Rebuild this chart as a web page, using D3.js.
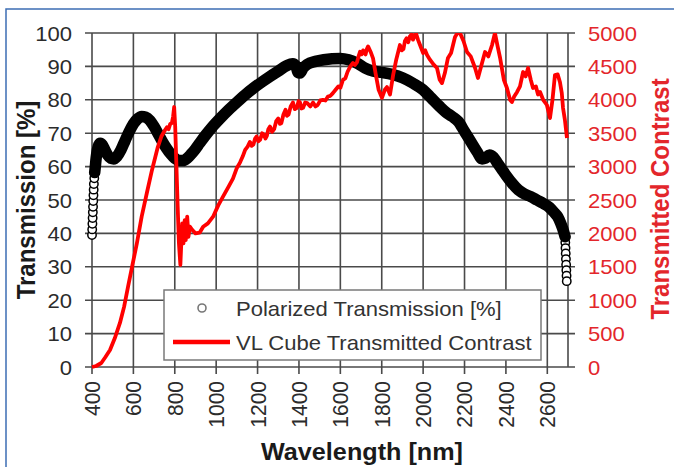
<!DOCTYPE html>
<html><head><meta charset="utf-8">
<script src="https://cdn.jsdelivr.net/npm/d3@7"></script>
<style>
html,body{margin:0;padding:0;background:#fff;}
svg{display:block;font-family:"Liberation Sans",Arial,sans-serif;}
</style>
</head><body>
<svg id="chart" width="674" height="467"></svg>
<script>
// ---------- data ----------
const wavelengthTicks = [400, 600, 800, 1000, 1200, 1400, 1600, 1800, 2000, 2200, 2400, 2600];
const transmissionTicks = [0, 10, 20, 30, 40, 50, 60, 70, 80, 90, 100];
const contrastTicks = [0, 500, 1000, 1500, 2000, 2500, 3000, 3500, 4000, 4500, 5000];

const transNm = [400, 401, 402, 403, 404, 405, 406, 407, 408, 409, 411, 413, 416,
  420, 426, 433, 440, 450, 462, 475, 490, 505, 520, 540, 560, 580, 600, 620, 640, 660, 680,
  700, 720, 740, 760, 780, 800, 820, 840, 860, 880, 900, 920, 950, 980, 1020, 1060, 1100,
  1140, 1180, 1220, 1260, 1300, 1340, 1370, 1385, 1395, 1405, 1420, 1440, 1480, 1520, 1560,
  1600, 1640, 1680, 1720, 1760, 1800, 1850, 1900, 1950, 2000, 2040, 2080, 2110, 2140, 2170,
  2200, 2230, 2260, 2285, 2300, 2320, 2340, 2360, 2380, 2405, 2430, 2460, 2490, 2520, 2550,
  2580, 2610, 2630, 2650, 2665, 2675, 2686,
  2687, 2688, 2689, 2690, 2691, 2692, 2693, 2694];
const transPct = [39.5, 41.2, 42.9, 44.6, 46.3, 48, 49.7, 51.4, 53.1, 54.8, 56.5, 58.2, 60,
  62.5, 65, 66.5, 67, 66.5, 65, 63.5, 62.5, 62.3, 63, 65, 67.8, 70.5, 72.8, 74.3, 75, 74.8, 73.8,
  72, 69.8, 67.5, 65.5, 63.8, 62.5, 61.8, 61.8, 62.5, 63.8, 65.3, 67, 69.5, 71.8, 74.5, 77, 79.3,
  81.5, 83.5, 85.3, 87, 88.6, 90.2, 90.8, 90.2, 88.2, 88, 89.5, 90.6, 91.5, 92, 92.3,
  92.4, 92, 91, 89.5, 88.6, 88.2, 87.6, 86.6, 85, 83, 80.5, 78, 76.3, 75, 73.5,
  70.5, 67.5, 64.5, 62.3, 62.5, 63.5, 62.8, 61, 59.2, 57, 55, 53, 51.8, 51, 50,
  49, 47.8, 46.5, 45, 43, 41.3, 39,
  37.3, 35.6, 34, 32.3, 30.6, 29, 27.3, 25.7];

const contrastNm = [400, 420, 445, 465, 487, 510, 535, 555, 574, 595, 617, 640, 665, 690, 718,
  735, 753, 762, 770, 778, 786, 792, 797, 802, 808, 814, 820, 827, 832, 836, 842, 848, 853, 860,
  866, 873, 885, 900, 920, 937, 960, 985, 1010, 1033, 1060, 1081, 1100, 1115, 1128, 1140, 1152, 1163, 1172, 1180,
  1188, 1195, 1204, 1212, 1222, 1230, 1238, 1245, 1252, 1260, 1270, 1280, 1290, 1300, 1308, 1315, 1325, 1335, 1342, 1350, 1360, 1371, 1380, 1390, 1398, 1405, 1412, 1420, 1430, 1440, 1455, 1468,
  1480, 1490, 1503, 1516, 1528, 1540, 1552, 1564, 1577, 1590, 1600, 1613, 1624, 1635, 1648, 1661, 1670, 1680, 1688, 1695, 1703, 1710, 1716, 1722, 1728, 1734, 1740, 1746, 1758, 1770,
  1785, 1801, 1815, 1825, 1840, 1855, 1870, 1888, 1897, 1905, 1912, 1920, 1928, 1936, 1944, 1951, 1965, 1975, 1985, 2000, 2010, 2019,
  2033, 2050, 2067, 2080, 2091, 2105, 2120, 2135, 2154, 2166, 2178, 2195, 2212, 2230, 2251, 2265,
  2280, 2299, 2315, 2333, 2347, 2360, 2372, 2390, 2405, 2420, 2429, 2440, 2454, 2468, 2483, 2495,
  2507, 2520, 2531, 2545, 2555, 2565, 2580, 2598, 2613, 2625, 2637, 2650, 2661, 2670, 2676, 2685, 2695];
const contrastVal = [0, 15, 60, 150, 254, 430, 659, 900, 1198, 1520, 1856, 2250, 2605, 2950, 3293,
  3450, 3548, 3590, 3560, 3640, 3653, 3750, 3892, 3600, 3000, 2400, 1856, 1527, 1900, 2150, 1850, 2200, 1900, 2250,
  1950, 2100, 2050, 2000, 2010, 2100, 2150, 2250, 2420, 2550, 2700, 2820, 2980, 3060, 3150, 3250, 3300, 3370, 3310, 3330,
  3420, 3450, 3380, 3400, 3500, 3480, 3420, 3460, 3560, 3600, 3520, 3560, 3680, 3720, 3640, 3650, 3780, 3850, 3760, 3780, 3900, 3960, 3860, 3880, 3980, 3960, 3870, 3880, 3960, 3950, 3900, 3960,
  3900, 3920, 3990, 4000, 3990, 4050, 4060, 4100, 4150, 4200, 4180, 4300, 4320, 4420, 4500, 4550, 4520, 4560, 4650, 4720, 4680, 4740, 4700, 4680, 4760, 4800, 4760, 4720, 4620, 4400,
  4150, 4030, 4150, 4190, 4080, 4370, 4600, 4820, 4740, 4760, 4880, 4920, 4860, 4950, 4980, 4900, 5000, 4900, 4820, 4700, 4740, 4670,
  4600, 4530, 4476, 4300, 4250, 4400, 4626, 4700, 4940, 5000, 5000, 4880, 4716, 4650, 4476, 4326,
  4500, 4716, 4650, 4820, 5000, 4800, 4626, 4300, 4177, 4000, 3967, 4050, 4117, 4200, 4416, 4350,
  4476, 4300, 4177, 4200, 4080, 4117, 4000, 3922, 3727, 4000, 4371, 4380, 4266, 4100, 3877, 3700, 3428];

const seriesNames = ["Polarized Transmission [%]", "VL Cube Transmitted Contrast"];

// ---------- chart ----------
const SX = 1.05;
const RED = "#ff0000", RED_TXT = "#e3262b", GRID = "#4a4a4a";
const svg = d3.select("#chart");
const x = d3.scaleLinear().domain([400, 2700]).range([92, 568]);
const yT = d3.scaleLinear().domain([0, 100]).range([367, 33]);
const yC = d3.scaleLinear().domain([0, 5000]).range([367, 33]);

// outer frame (top + left visible)
svg.append("path").attr("d", "M6,467V9H674").attr("fill", "none")
  .attr("stroke", "#3d6eb4").attr("stroke-width", 1.5);

// grid
const grid = svg.append("g").attr("stroke", GRID).attr("stroke-width", 1.6);
grid.selectAll("line.v").data(wavelengthTicks).join("line")
  .attr("x1", d => x(d)).attr("x2", d => x(d))
  .attr("y1", yT(100)).attr("y2", yT(0) + 7);
grid.selectAll("line.h").data(transmissionTicks).join("line")
  .attr("x1", x(400) - 7).attr("x2", x(2700) + 7)
  .attr("y1", d => yT(d)).attr("y2", d => yT(d));
grid.append("line").attr("x1", x(2700)).attr("x2", x(2700)).attr("y1", yT(100)).attr("y2", yT(0));

// tick labels
svg.append("g").selectAll("text").data(transmissionTicks).join("text")
  .attr("transform", d => `translate(72,${yT(d)}) scale(${SX},1)`)
  .attr("text-anchor", "end").attr("dy", "0.36em")
  .attr("font-size", 21).attr("fill", "#2b2b2b").text(d => d);
svg.append("g").selectAll("text").data(contrastTicks).join("text")
  .attr("transform", d => `translate(588,${yC(d)}) scale(${SX},1)`)
  .attr("text-anchor", "start").attr("dy", "0.36em")
  .attr("font-size", 21).attr("fill", RED_TXT).text(d => d);
svg.append("g").selectAll("text").data(wavelengthTicks).join("text")
  .attr("transform", d => `translate(${x(d)},381) scale(${SX},1) rotate(-90)`)
  .attr("text-anchor", "end").attr("dy", "0.36em")
  .attr("font-size", 21).attr("fill", "#2b2b2b").text(d => d);

// titles
svg.append("text").attr("transform", `translate(35,200) scale(${SX},1) rotate(-90)`)
  .attr("text-anchor", "middle").attr("font-size", 24).attr("font-weight", "bold")
  .attr("fill", "#1a1a1a").text("Transmission [%]");
svg.append("text").attr("transform", `translate(669,199) scale(${SX},1) rotate(-90)`)
  .attr("text-anchor", "middle").attr("font-size", 24).attr("font-weight", "bold")
  .attr("fill", RED_TXT).text("Transmitted Contrast");
svg.append("text").attr("transform", `translate(362,460) scale(${SX},1)`)
  .attr("text-anchor", "middle").attr("font-size", 24).attr("font-weight", "bold")
  .attr("fill", "#1a1a1a").text("Wavelength [nm]");

// clip
svg.append("clipPath").attr("id", "plot").append("rect")
  .attr("x", x(400) - 6).attr("y", yT(100)).attr("width", x(2700) - x(400) + 12).attr("height", yT(0) - yT(100) + 6);

const trans = transNm.map((n, i) => ({ nm: n, v: transPct[i] }));
const contrast = contrastNm.map((n, i) => ({ nm: n, v: contrastVal[i] }));

const plot = svg.append("g").attr("clip-path", "url(#plot)");
// transmission markers
plot.append("g").selectAll("circle").data(trans).join("circle")
  .attr("cx", d => x(d.nm)).attr("cy", d => yT(d.v)).attr("r", 4.2)
  .attr("fill", "#fff").attr("stroke", "#000").attr("stroke-width", 1.5);
// dense marker band
plot.append("path").datum(trans.filter(d => d.nm >= 413 && d.nm <= 2686))
  .attr("d", d3.line().x(d => x(d.nm)).y(d => yT(d.v)).curve(d3.curveMonotoneX))
  .attr("fill", "none").attr("stroke", "#000").attr("stroke-width", 11.5)
  .attr("stroke-linejoin", "round").attr("stroke-linecap", "round");
// contrast line
plot.append("path").datum(contrast)
  .attr("d", d3.line().x(d => x(d.nm)).y(d => yC(d.v)))
  .attr("fill", "none").attr("stroke", RED).attr("stroke-width", 3.8)
  .attr("stroke-linejoin", "round");

// legend
const lg = svg.append("g");
lg.append("rect").attr("x", 164).attr("y", 290).attr("width", 377).attr("height", 70)
  .attr("fill", "#fff").attr("stroke", "#7a7a7a").attr("stroke-width", 1.5);
lg.append("circle").attr("cx", 202).attr("cy", 308).attr("r", 4)
  .attr("fill", "#fff").attr("stroke", "#777").attr("stroke-width", 1.6);
lg.append("line").attr("x1", 173).attr("x2", 230).attr("y1", 342).attr("y2", 342)
  .attr("stroke", RED).attr("stroke-width", 4.5);
lg.selectAll("text").data(seriesNames).join("text")
  .attr("transform", (d, i) => `translate(236,${308 + i * 34}) scale(${SX},1)`)
  .attr("dy", "0.36em").attr("font-size", 21).attr("fill", "#333").text(d => d);
</script>
</body></html>
